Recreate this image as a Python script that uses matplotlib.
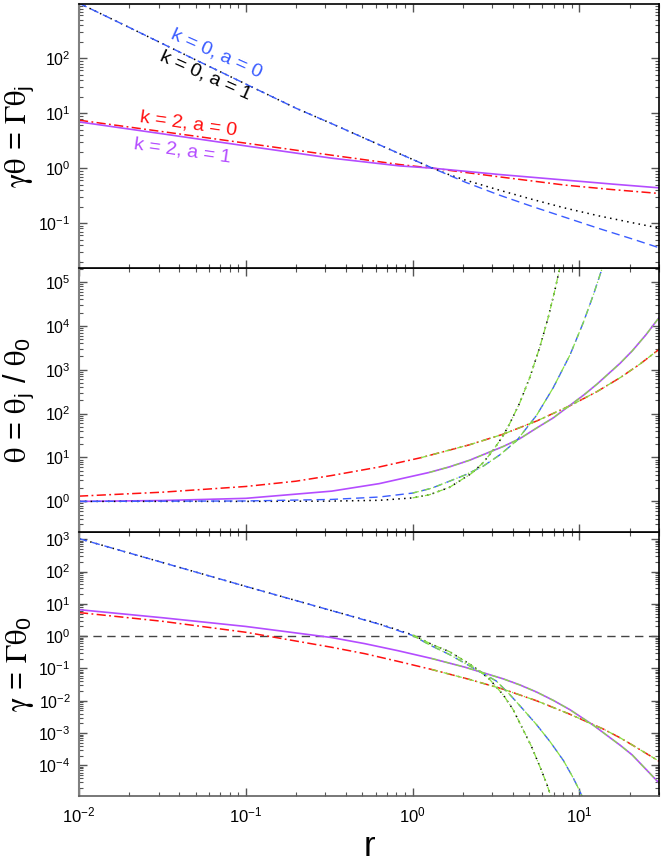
import numpy as np
import matplotlib
matplotlib.use('Agg')
import matplotlib.pyplot as plt
from matplotlib.ticker import LogLocator, NullFormatter

plt.rcParams['font.family'] = ['Liberation Sans', 'DejaVu Sans']
plt.rcParams['mathtext.fontset'] = 'custom'
plt.rcParams['mathtext.rm'] = 'Liberation Sans'
plt.rcParams['mathtext.it'] = 'Liberation Sans:italic'
plt.rcParams['mathtext.bf'] = 'Liberation Sans:bold'
plt.rcParams['mathtext.sf'] = 'Liberation Sans'

# ---------------- data (log10 values) ----------------
# top panel: gamma*theta
top_k0a0_logr = [-2, -1.699, -1.301, -1, -0.699, -0.485, -0.285, -0.08, 0.12, 0.22, 0.32, 0.52, 0.72, 0.92, 1.12, 1.33, 1.48]
top_k0a0_logv = [3.0, 2.56, 1.97, 1.53, 1.09, 0.81, 0.54, 0.265, 0.0, -0.13, -0.26, -0.49, -0.70, -0.90, -1.10, -1.30, -1.45]
top_k0a1_logr = [-2, -1.699, -1.301, -1, -0.699, -0.485, -0.285, -0.08, 0.12, 0.22, 0.32, 0.52, 0.72, 0.92, 1.12, 1.33, 1.48]
top_k0a1_logv = [3.0, 2.56, 1.97, 1.53, 1.09, 0.81, 0.54, 0.265, 0.0, -0.12, -0.22, -0.40, -0.57, -0.73, -0.87, -1.00, -1.09]
top_k2a0_logr = [-2, -1.5, -1, -0.485, -0.08, 0.12, 0.52, 0.92, 1.2, 1.48]
top_k2a0_logv = [0.873, 0.665, 0.455, 0.236, 0.067, 0.0, -0.158, -0.31, -0.39, -0.46]
top_k2a1_logr = [-2, -1.5, -1, -0.485, -0.08, 0.12, 0.52, 0.92, 1.2, 1.48]
top_k2a1_logv = [0.842, 0.625, 0.405, 0.182, 0.042, 0.0, -0.115, -0.218, -0.29, -0.358]

# middle panel: theta
mid_k0a0_logr = [-2, -1, -0.485, -0.2, 0, 0.114, 0.221, 0.313, 0.422, 0.523, 0.623, 0.743, 0.843, 0.944, 1.024, 1.084, 1.14]
mid_k0a0_logv = [0.0, 0.01, 0.045, 0.10, 0.19, 0.30, 0.46, 0.60, 0.80, 1.06, 1.38, 1.96, 2.59, 3.34, 4.08, 4.71, 5.35]
mid_k0a1_logr = [-2, -1, -0.485, -0.2, 0, 0.1, 0.221, 0.354, 0.422, 0.482, 0.543, 0.583, 0.643, 0.703, 0.763, 0.813, 0.854, 0.89]
mid_k0a1_logv = [0.0, 0.0, 0.007, 0.025, 0.08, 0.15, 0.32, 0.64, 0.88, 1.16, 1.50, 1.78, 2.25, 2.83, 3.52, 4.19, 4.83, 5.45]
mid_k2a0_logr = [-2, -1.5, -1, -0.7, -0.485, -0.2, 0.05, 0.341, 0.542, 0.743, 0.944, 1.105, 1.245, 1.36, 1.48]
mid_k2a0_logv = [0.12, 0.21, 0.34, 0.46, 0.59, 0.784, 0.996, 1.29, 1.53, 1.83, 2.18, 2.50, 2.82, 3.12, 3.47]
mid_k2a1_logr = [-2, -1.5, -1, -0.485, -0.2, 0.1, 0.221, 0.341, 0.542, 0.643, 0.743, 0.844, 0.944, 1.025, 1.105, 1.245, 1.317, 1.4, 1.48]
mid_k2a1_logv = [0.0, 0.02, 0.07, 0.234, 0.405, 0.66, 0.787, 0.937, 1.249, 1.43, 1.67, 1.905, 2.19, 2.42, 2.67, 3.15, 3.43, 3.80, 4.20]

# bottom panel: gamma
bot_k0a0_logr = [-2, -1.5, -1, -0.485, -0.2, 0, 0.113, 0.221, 0.341, 0.502, 0.583, 0.663, 0.743, 0.823, 0.904, 0.964, 1.004, 1.02]
bot_k0a0_logv = [3.02, 2.28, 1.54, 0.79, 0.37, 0.02, -0.30, -0.57, -0.92, -1.39, -1.81, -2.27, -2.74, -3.26, -3.85, -4.40, -4.82, -5.0]
bot_k0a1_logr = [-2, -1.5, -1, -0.485, -0.2, 0, 0.113, 0.221, 0.341, 0.402, 0.462, 0.542, 0.602, 0.663, 0.713, 0.763, 0.803, 0.823, 0.84]
bot_k0a1_logv = [3.02, 2.28, 1.54, 0.79, 0.38, 0.04, -0.25, -0.48, -0.86, -1.08, -1.34, -1.81, -2.27, -2.90, -3.42, -4.04, -4.56, -4.87, -5.1]
bot_k2a0_logr = [-2, -1.5, -1, -0.49, -0.289, -0.088, 0.113, 0.341, 0.542, 0.743, 0.944, 1.145, 1.245, 1.317, 1.48]
bot_k2a0_logv = [0.73, 0.46, 0.12, -0.34, -0.54, -0.78, -1.03, -1.34, -1.64, -2.0, -2.42, -2.88, -3.15, -3.37, -3.88]
bot_k2a1_logr = [-2, -1.5, -1, -0.49, -0.289, -0.088, 0.113, 0.313, 0.542, 0.643, 0.743, 0.844, 0.944, 1.084, 1.245, 1.317, 1.48]
bot_k2a1_logv = [0.82, 0.57, 0.30, -0.04, -0.23, -0.45, -0.69, -0.96, -1.32, -1.51, -1.73, -1.99, -2.28, -2.76, -3.38, -3.68, -4.56]

labels = ['k = 0, a = 0', 'k = 0, a = 1', 'k = 2, a = 0', 'k = 2, a = 1']
ylabels = [r'$\mathrm{\gamma\theta}$ = $\mathrm{\Gamma\theta}_\mathregular{j}$',
           r'$\mathrm{\theta}$ = $\mathrm{\theta}_\mathregular{j}$ / $\mathrm{\theta}_\mathregular{0}$',
           r'$\mathrm{\gamma}$ = $\mathrm{\Gamma\theta}_\mathregular{0}$']

# ---------------- style ----------------
C_BLUE = '#3a5cff'
C_BLACK = 'black'
C_RED = '#ff1010'
C_PURP = '#b44cff'
C_GREEN = '#86e040'

styles = {
    'k0a0': dict(color=C_BLUE, lw=1.0, dashes=(6, 3.5)),
    'k0a1': dict(color=C_BLACK, lw=1.1, dashes=(1.0, 2.8)),
    'k2a0': dict(color=C_RED, lw=1.1, dashes=(6, 2.2, 1.2, 2.2)),
    'k2a1': dict(color=C_PURP, lw=1.2, linestyle='-'),
}
green_style = dict(color=C_GREEN, lw=0.9, dashes=(5, 2.0, 1.0, 2.0))

fig = plt.figure(figsize=(6.64, 8.68), dpi=100)
L, W = 0.119, 0.8735
B0, TOP = 0.0829, 0.995
H = (TOP - B0) / 3.0
ax_bot = fig.add_axes([L, B0, W, H])
ax_mid = fig.add_axes([L, B0 + H, W, H], sharex=ax_bot)
ax_top = fig.add_axes([L, B0 + 2 * H, W, H], sharex=ax_bot)

def P(a):
    return np.power(10.0, np.asarray(a, dtype=float))

panels = [
    (ax_top, {'k0a1': (top_k0a1_logr, top_k0a1_logv), 'k0a0': (top_k0a0_logr, top_k0a0_logv),
              'k2a0': (top_k2a0_logr, top_k2a0_logv), 'k2a1': (top_k2a1_logr, top_k2a1_logv)}, False),
    (ax_mid, {'k0a1': (mid_k0a1_logr, mid_k0a1_logv), 'k0a0': (mid_k0a0_logr, mid_k0a0_logv),
              'k2a0': (mid_k2a0_logr, mid_k2a0_logv), 'k2a1': (mid_k2a1_logr, mid_k2a1_logv)}, True),
    (ax_bot, {'k0a1': (bot_k0a1_logr, bot_k0a1_logv), 'k0a0': (bot_k0a0_logr, bot_k0a0_logv),
              'k2a0': (bot_k2a0_logr, bot_k2a0_logv), 'k2a1': (bot_k2a1_logr, bot_k2a1_logv)}, True),
]

for ax, series, green in panels:
    for key in ['k2a0', 'k2a1', 'k0a1', 'k0a0']:
        lr, lv = series[key]
        ax.plot(P(lr), P(lv), **styles[key])
    if green:
        for key in ['k2a0', 'k2a1', 'k0a1', 'k0a0']:
            lr, lv = series[key]
            lr = np.asarray(lr); lv = np.asarray(lv)
            m = lr >= 0
            ax.plot(P(lr[m]), P(lv[m]), **green_style)

ax_bot.axhline(1.0, color='#444444', lw=1.0, dashes=(6, 4), zorder=0.5)

ax_bot.set_xscale('log')
for ax in (ax_top, ax_mid, ax_bot):
    ax.set_yscale('log')
ax_bot.set_xlim(0.01, 30)
ax_top.set_ylim(10 ** -1.82, 10 ** 2.98)
ax_mid.set_ylim(10 ** -0.70, 10 ** 5.31)
ax_bot.set_ylim(10 ** -4.95, 10 ** 3.22)

for ax, yl in zip((ax_top, ax_mid, ax_bot), ylabels):
    ax.xaxis.set_major_locator(LogLocator(base=10, numticks=100))
    ax.xaxis.set_minor_locator(LogLocator(base=10, subs=np.arange(2, 10), numticks=100))
    ax.yaxis.set_major_locator(LogLocator(base=10, numticks=100))
    ax.yaxis.set_minor_locator(LogLocator(base=10, subs=np.arange(2, 10), numticks=100))
    ax.xaxis.set_minor_formatter(NullFormatter())
    ax.yaxis.set_minor_formatter(NullFormatter())
    ax.tick_params(which='both', direction='in', top=True, right=True, color='#555555', labelsize=11.5)
    ax.tick_params(which='major', length=5.5, width=1.0, pad=6)
    ax.tick_params(which='minor', length=3.2, width=0.8)
    for s in ax.spines.values():
        s.set_color('black'); s.set_linewidth(1.2)
    ax.spines['left'].set_color('#808080'); ax.spines['left'].set_linewidth(1.5)
    ax.set_ylabel(yl, fontsize=22, math_fontfamily='stix')
    ax.yaxis.set_label_coords(-0.074, 0.5)

ax_bot.spines['bottom'].set_color('#606060')
ax_top.tick_params(labelbottom=False)
ax_mid.tick_params(labelbottom=False)
ax_bot.tick_params(axis='x', pad=7, labelsize=12)
ax_bot.set_xlabel('r', fontsize=25, labelpad=3)

# curve labels in the top panel
ax_top.text(0.0666, 123, labels[0], color=C_BLUE, fontsize=14, rotation=-24,
            ha='center', va='center', rotation_mode='anchor')
ax_top.text(0.0572, 49, labels[1], color='black', fontsize=14, rotation=-24,
            ha='center', va='center', rotation_mode='anchor')
ax_top.text(0.0452, 6.3, labels[2], color=C_RED, fontsize=14, rotation=-8,
            ha='center', va='center', rotation_mode='anchor')
ax_top.text(0.0416, 2.04, labels[3], color=C_PURP, fontsize=14, rotation=-8,
            ha='center', va='center', rotation_mode='anchor')

fig.savefig('out.png', dpi=100)
